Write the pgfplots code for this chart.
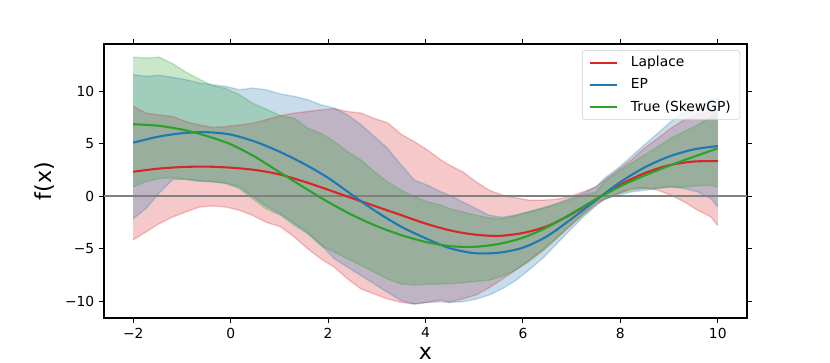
\documentclass[border=0pt]{standalone}
\usepackage{fontspec}
\setmainfont{DejaVu Sans}
\usepackage{pgfplots}
\pgfplotsset{compat=1.18}
\usepgfplotslibrary{fillbetween}
\usepackage{pgfplotstable}
\definecolor{tabred}{HTML}{D62728}
\definecolor{tabblue}{HTML}{1F77B4}
\definecolor{tabgreen}{HTML}{2CA02C}

\pgfplotstableread{
x     ru     rl      bu     bl      gu     gl
-2.00 8.55  -4.15   11.58  -2.14   13.24   0.89
-1.74 7.91  -3.41   11.42  -1.18   13.17   1.37
-1.47 7.75  -2.62   11.52   0.30   13.25   1.69
-1.19 7.59  -1.98   11.32   1.60   12.62   1.75
-0.92 7.11  -1.50   11.10   1.62   11.82   1.60
-0.64 6.79  -1.02   10.78   1.46   11.13   1.44
-0.37 6.54  -0.93   10.62   1.40   10.53   1.37
-0.10 6.63  -1.02   10.46   1.25   10.26   1.21
 0.18 6.79  -1.34   10.14   0.90    9.67   0.73
 0.45 6.95  -1.82   10.30   0.00    8.87  -0.22
 0.72 7.27  -2.46   10.14  -0.90    8.31  -1.18
 1.03 7.69  -2.93    9.73  -1.70    7.66  -1.82
 1.31 7.91  -3.89    9.51  -2.60    7.43  -2.78
 1.58 8.07  -5.00    9.19  -3.45    6.48  -3.57
 1.85 8.23  -5.96    8.71  -4.60    6.00  -4.69
 2.13 8.33  -6.76    8.39  -5.96    5.20  -5.33
 2.40 8.07  -7.88    7.75  -6.76    4.24  -5.96
 2.68 7.91  -8.84    6.79  -7.56    3.44  -6.60
 2.95 7.40  -9.31    5.68  -8.36    2.33  -7.24
 3.22 7.00  -9.79    4.56  -9.15    1.37  -7.88
 3.50 5.90  -10.11   2.97  -9.95    0.57  -8.36
 3.77 5.20  -10.27   1.53  -10.27  -0.06  -8.45
 4.04 4.40  -10.11   1.05  -10.11  -0.54  -8.39
 4.32 3.44  -9.86    0.41  -10.05  -0.86  -8.36
 4.49 2.97  -10.11   0.10  -10.11  -1.18  -8.33
 4.76 2.33  -9.79   -0.54  -10.05  -1.50  -8.26
 5.04 1.37  -9.40   -1.18  -9.80   -1.82  -8.10
 5.31 0.57  -8.70   -1.82  -9.40   -2.07  -8.00
 5.58 0.10  -7.90   -2.00  -8.80   -2.14  -7.60
 5.86 -0.16 -7.00   -1.80  -8.00   -1.82  -7.00
 6.13 -0.38 -6.10   -1.45  -7.00   -1.50  -6.20
 6.41 -0.38 -5.10   -1.10  -5.90   -1.18  -5.20
 6.68 -0.29 -4.00   -0.70  -4.60   -0.80  -4.10
 6.95 -0.06 -2.90   -0.25  -3.30   -0.38  -2.90
 7.23 0.41  -1.80    0.26  -2.00    0.10  -1.70
 7.50 0.89  -0.80    0.89  -0.90    0.40  -0.60
 7.67 1.53  -0.30    1.69  -0.30    1.37  -0.30
 7.95 2.49   0.26    2.65   0.10    2.33   0.26
 8.22 3.44   0.73    3.76   0.41    3.13   0.57
 8.49 4.56   0.80    4.88   0.57    3.92   0.73
 8.77 5.52   0.57    6.00   0.73    4.72   0.80
 9.04 6.48   0.10    7.11   0.89    5.52   0.89
 9.31 7.27  -0.54    8.07   0.73    6.16   0.89
 9.59 7.75  -1.34    8.71   0.41    6.79   0.99
 9.86 8.07  -1.98    9.09  -0.22    7.59   1.05
10.00 8.23  -2.78    9.45  -1.02    8.07   0.89
}\bands

\pgfplotstableread{
x     r      b      g
-2.0  2.33   5.10   6.86
-1.5  2.62   5.66   6.72
-1.0  2.78   6.00   6.35
-0.5  2.82   6.10   5.75
 0.0  2.72   5.87   4.95
 0.5  2.50   5.20   3.75
 1.0  2.08   4.25   2.30
 1.5  1.40   3.10   0.85
 2.0  0.62   1.75  -0.55
 2.5 -0.20   0.10  -1.80
 3.0 -1.00  -1.50  -2.85
 3.5 -1.80  -2.90  -3.70
 4.0 -2.60  -4.00  -4.35
 4.5 -3.25  -4.95  -4.75
 5.0 -3.65  -5.42  -4.82
 5.5 -3.78  -5.38  -4.55
 6.0 -3.50  -4.90  -3.95
 6.5 -2.85  -3.80  -2.95
 7.0 -1.70  -2.15  -1.65
 7.5 -0.29  -0.38  -0.29
 8.0  1.10   1.35   0.95
 8.5  2.20   2.75   1.98
 9.0  2.95   3.78   2.90
 9.5  3.30   4.45   3.75
10.0  3.35   4.78   4.56
}\means

\begin{document}
\begin{tikzpicture}
\begin{axis}[
  at={(0,0)}, anchor=south west,
  scale only axis, width=462.96bp, height=197.28bp,
  xmin=-2.6, xmax=10.6, ymin=-11.6, ymax=14.5,
  xtick={-2,0,2,4,6,8,10}, xticklabels={−2,0,2,4,6,8,10},
  ytick={-10,-5,0,5,10}, yticklabels={−10,−5,0,5,10},
  tick align=outside, major tick length=3.5bp,
  every tick/.style={black, line width=0.8bp},
  axis line style={line width=0.8bp},
  tick label style={font=\fontsize{10}{12}\selectfont},
  xlabel={x}, ylabel={f(x)},
  every axis x label/.style={at={(axis description cs:0.5,-0.106)}, anchor=north, inner sep=0pt, font=\fontsize{16}{19}\selectfont},
  every axis y label/.style={at={(axis description cs:-0.0918,0.5)}, anchor=center, rotate=90, inner sep=0pt, font=\fontsize{16}{19}\selectfont},
  legend style={at={(1,1)}, anchor=north east, xshift=-5bp, yshift=-4.3bp,
    draw=black!20, fill=white, fill opacity=0.8, text opacity=1,
    rounded corners=2bp, font=\fontsize{10}{12}\selectfont,
    row sep=3bp, inner xsep=4.5bp, inner ysep=2.5bp,
    /tikz/every odd column/.append style={column sep=7bp}},
  legend cell align=left,
  legend image code/.code={\draw[#1, line width=1.5bp] (0bp,0bp) -- (20bp,0bp);},
]
% Laplace band
\addplot[name path=ru, tabred, draw opacity=0.25, line width=1bp, forget plot] table[x=x,y=ru]{\bands};
\addplot[name path=rl, tabred, draw opacity=0.25, line width=1bp, forget plot] table[x=x,y=rl]{\bands};
\addplot[tabred, fill opacity=0.25, draw=none, forget plot] fill between[of=ru and rl];
% EP band
\addplot[name path=bu, tabblue, draw opacity=0.25, line width=1bp, forget plot] table[x=x,y=bu]{\bands};
\addplot[name path=bl, tabblue, draw opacity=0.25, line width=1bp, forget plot] table[x=x,y=bl]{\bands};
\addplot[tabblue, fill opacity=0.25, draw=none, forget plot] fill between[of=bu and bl];
% True band
\addplot[name path=gu, tabgreen, draw opacity=0.25, line width=1bp, forget plot] table[x=x,y=gu]{\bands};
\addplot[name path=gl, tabgreen, draw opacity=0.25, line width=1bp, forget plot] table[x=x,y=gl]{\bands};
\addplot[tabgreen, fill opacity=0.25, draw=none, forget plot] fill between[of=gu and gl];
% zero line
\addplot[gray, line width=1.5bp, forget plot] coordinates {(-2.6,0) (10.6,0)};
% means
\addplot[tabred, line width=1.5bp, smooth] table[x=x,y=r]{\means};
\addlegendentry{Laplace}
\addplot[tabblue, line width=1.5bp, smooth] table[x=x,y=b]{\means};
\addlegendentry{EP}
\addplot[tabgreen, line width=1.5bp, smooth] table[x=x,y=g]{\means};
\addlegendentry{True (SkewGP)}
\end{axis}
\pgfresetboundingbox
\useasboundingbox (-74.88bp,-32.4bp) rectangle (522.72bp,228.96bp);
\end{tikzpicture}
\end{document}
